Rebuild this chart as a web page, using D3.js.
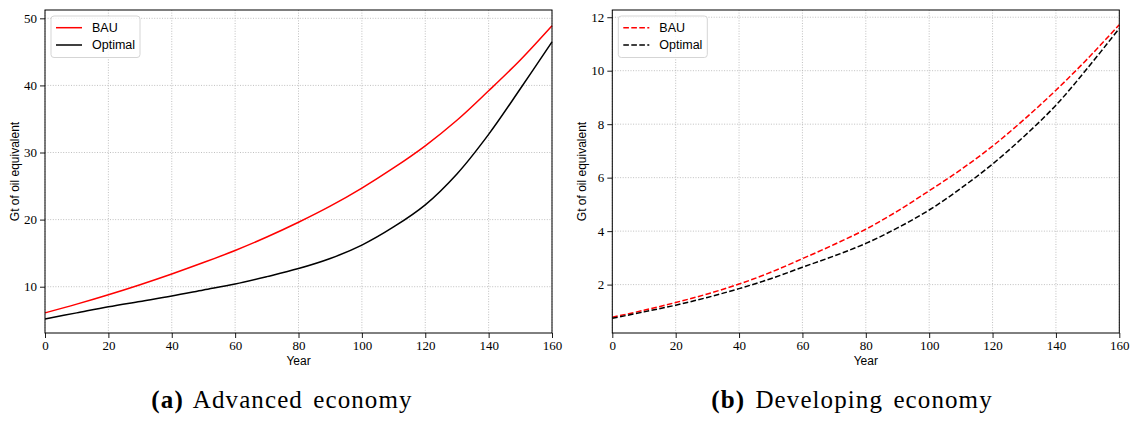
<!DOCTYPE html>
<html>
<head>
<meta charset="utf-8">
<script src="https://cdn.jsdelivr.net/npm/d3@7"></script>
<style>
  html, body { margin: 0; padding: 0; background: #fff; }
  svg { display: block; }
</style>
</head>
<body>
<svg id="fig" width="1131" height="421"></svg>
<script>
// Years on the horizontal axis
const years = [0, 10, 20, 30, 40, 50, 60, 70, 80, 90, 100, 110, 120, 130, 140, 150, 160];

// Advanced economy (Gt of oil equivalent)
const advancedBAU     = [6.1, 7.4, 8.8, 10.3, 11.9, 13.6, 15.4, 17.4, 19.6, 22.0, 24.7, 27.7, 31.0, 34.8, 39.2, 43.8, 48.9];
const advancedOptimal = [5.2, 6.1, 7.0, 7.8, 8.6, 9.5, 10.4, 11.5, 12.7, 14.2, 16.2, 18.9, 22.2, 26.8, 32.7, 39.5, 46.5];

// Developing economy (Gt of oil equivalent)
const developingBAU     = [0.78, 1.04, 1.33, 1.65, 2.02, 2.46, 2.97, 3.50, 4.07, 4.75, 5.51, 6.30, 7.18, 8.18, 9.27, 10.45, 11.72];
const developingOptimal = [0.74, 0.98, 1.23, 1.52, 1.85, 2.22, 2.65, 3.07, 3.54, 4.12, 4.79, 5.60, 6.51, 7.55, 8.71, 10.1, 11.58];

// Tick values
const xTicks = [0, 20, 40, 60, 80, 100, 120, 140, 160];
const yTicksAdvanced = [10, 20, 30, 40, 50];
const yTicksDeveloping = [2, 4, 6, 8, 10, 12];

const seriesNames = ["BAU", "Optimal"];
const seriesColors = ["#ff0000", "#000000"];

const svg = d3.select("#fig");
const serif = "'Liberation Serif', 'Times New Roman', serif";
const sans = "'Liberation Sans', Arial, Helvetica, sans-serif";

function panel(opts) {
  const { left, right, top, bottom, yDomain, yTicks, series, dashed, caption, captionX } = opts;
  const x = d3.scaleLinear().domain([0, 160]).range([left, right]);
  const y = d3.scaleLinear().domain(yDomain).range([bottom, top]);
  const g = svg.append("g");

  // grid
  const grid = g.append("g").attr("stroke", "#b0b0b0").attr("stroke-width", 0.8)
    .attr("stroke-dasharray", "1,1.6");
  xTicks.forEach(t => grid.append("line")
    .attr("x1", x(t)).attr("x2", x(t)).attr("y1", top).attr("y2", bottom));
  yTicks.forEach(t => grid.append("line")
    .attr("x1", left).attr("x2", right).attr("y1", y(t)).attr("y2", y(t)));

  // lines
  const line = d3.line().x((d, i) => x(years[i])).y(d => y(d)).curve(d3.curveCatmullRom.alpha(0.5));
  series.forEach((vals, k) => {
    g.append("path").datum(vals)
      .attr("d", line)
      .attr("fill", "none")
      .attr("stroke", seriesColors[k])
      .attr("stroke-width", 1.5)
      .attr("stroke-dasharray", dashed ? "5.6,2.4" : null);
  });

  // axes
  const xAxis = d3.axisBottom(x).tickValues(xTicks).tickSize(5).tickPadding(3).tickFormat(d3.format("d"));
  const yAxis = d3.axisLeft(y).tickValues(yTicks).tickSize(5).tickPadding(3).tickFormat(d3.format("d"));
  const gx = g.append("g").attr("transform", `translate(0,${bottom})`).call(xAxis);
  const gy = g.append("g").attr("transform", `translate(${left},0)`).call(yAxis);
  [gx, gy].forEach(a => {
    a.select(".domain").remove();
    a.selectAll(".tick line").attr("stroke", "#000").attr("stroke-width", 0.9);
    a.selectAll(".tick text").attr("font-family", serif).attr("font-size", 13).attr("fill", "#000");
  });

  // frame
  g.append("rect").attr("x", left).attr("y", top)
    .attr("width", right - left).attr("height", bottom - top)
    .attr("fill", "none").attr("stroke", "#000").attr("stroke-width", 1);

  // axis labels
  g.append("text").attr("x", (left + right) / 2).attr("y", 365)
    .attr("text-anchor", "middle").attr("font-family", sans).attr("font-size", 12)
    .text("Year");
  g.append("text")
    .attr("transform", `translate(${left - 26},${(top + bottom) / 2}) rotate(-90)`)
    .attr("text-anchor", "middle").attr("font-family", sans).attr("font-size", 12)
    .text("Gt of oil equivalent");

  // legend
  const lg = g.append("g").attr("transform", `translate(${left + 6},16)`);
  lg.append("rect").attr("width", 89).attr("height", 41.5).attr("rx", 3)
    .attr("fill", "#fff").attr("fill-opacity", 0.8).attr("stroke", "#d5d5d5").attr("stroke-width", 1);
  seriesNames.forEach((name, k) => {
    const yy = 11.7 + k * 17.3;
    lg.append("line").attr("x1", 5).attr("x2", 31).attr("y1", yy).attr("y2", yy)
      .attr("stroke", seriesColors[k]).attr("stroke-width", 1.5)
      .attr("stroke-dasharray", dashed ? "5.6,2.4" : null);
    lg.append("text").attr("x", 41).attr("y", yy + 4.3)
      .attr("font-family", sans).attr("font-size", 12.5).text(name);
  });

  // caption
  const cap = svg.append("text").attr("x", captionX).attr("y", 408)
    .attr("text-anchor", "middle").attr("font-family", serif).attr("font-size", 25)
    .attr("letter-spacing", 1.1).attr("word-spacing", 3);
  cap.append("tspan").attr("font-weight", "bold").text(caption[0]);
  cap.append("tspan").text(" " + caption[1]);
}

panel({
  left: 45, right: 552, top: 10, bottom: 333,
  yDomain: [3.10, 51.24], yTicks: yTicksAdvanced,
  series: [advancedBAU, advancedOptimal], dashed: false,
  caption: ["(a)", "Advanced economy"], captionX: 282
});

panel({
  left: 612.3, right: 1119.3, top: 10, bottom: 333,
  yDomain: [0.19, 12.27], yTicks: yTicksDeveloping,
  series: [developingBAU, developingOptimal], dashed: true,
  caption: ["(b)", "Developing economy"], captionX: 852
});
</script>
</body>
</html>
